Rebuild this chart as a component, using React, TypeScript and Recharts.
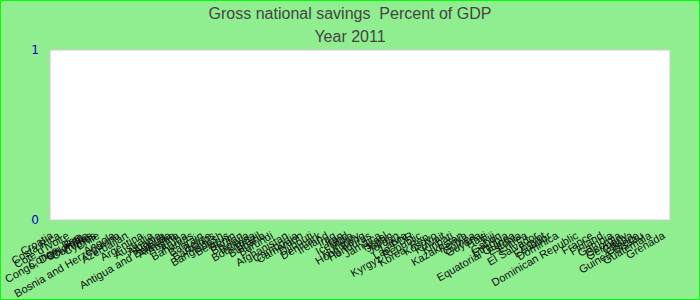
import { BarChart, Bar, XAxis, YAxis, CartesianGrid, ReferenceArea } from "recharts";

// countries in the order they appear along the axis
const countries = [
  "Croatia", "Costa Rica", "Cote d'Ivoire", "Congo, Dem. Rep.", "Congo, Rep.", "Colombia",
  "Comoros", "Cyprus", "Chile", "Bosnia and Herzegovina", "Angola", "Azerbaijan",
  "Argentina", "Australia", "Albania", "Algeria", "Antigua and Barbuda", "Armenia",
  "Austria", "Aruba", "Bahamas", "Bahrain", "Belize", "Barbados", "Bangladesh",
  "Belarus", "Benin", "Bhutan", "Bolivia", "Botswana", "Brazil", "Bulgaria", "Burundi",
  "Afghanistan", "Cambodia", "Cameroon", "Djibouti", "Denmark", "Ireland", "Iraq",
  "Iran", "Iceland", "India", "Hungary", "Hong Kong", "Honduras", "Jamaica", "Israel",
  "Japan", "Jordan", "Latvia", "Lao PDR", "Kyrgyz Republic", "Korea, Rep.", "Kosovo",
  "Kuwait", "Kiribati", "Kazakhstan", "Kenya", "Guinea", "Guyana", "Haiti", "Fiji",
  "Gabon", "Ethiopia", "Equatorial Guinea", "Estonia", "Eritrea", "El Salvador", "Egypt",
  "Ecuador", "Dominica", "Dominican Republic", "France", "Finland", "Gambia", "Georgia",
  "Germany", "Ghana", "Greece", "Guinea-Bissau", "Guatemala", "Grenada",
];

// x value of each country (0..100)
const xValues = [
  0, 1.1, 2.6, 5.3, 4.9, 5.7, 6.3, 6.9, 7.5, 10.8, 10, 12.1, 14.5, 16.1, 17.4, 18.1,
  19, 19.7, 20.3, 21.6, 22.6, 24.2, 25.5, 26.1, 27.4, 28.4, 29.4, 30.6, 31.6, 32.6,
  33.5, 34.2, 35.5, 37.9, 39.5, 40.3, 41.9, 43.2, 44.4, 45.6, 46.8, 47.6, 48.4, 49.4,
  50.3, 51.3, 52.9, 53.9, 54.8, 55.8, 57.1, 58.1, 59.4, 61, 61.9, 63.2, 64.5, 66.1,
  66.8, 68.1, 69, 70, 71.3, 72.3, 73.4, 74.5, 75.5, 76.5, 78.2, 79.4, 80.3, 81.5,
  84.7, 87.1, 88.7, 90.3, 91.6, 92.6, 93.5, 94.5, 95.2, 96.5, 98.7,
];

// gross national savings, % of GDP (none shown for 2011)
const savings = countries.map(() => 0);

const data = countries.map((name, i) => ({ name, x: xValues[i], savings: savings[i] }));

const CountryTick = (props: any) => {
  const { x, y, payload } = props;
  const d = data.find((p) => p.x === payload.value);
  return (
    <text
      transform={`translate(${x},${y + 3}) rotate(-30)`}
      textAnchor="end"
      dy="0.71em"
      fontSize={11}
      fontFamily="Liberation Sans, Arial, sans-serif"
      fill="#111"
    >
      {d ? d.name : ""}
    </text>
  );
};

const App = () => {
  return (
    <div
      style={{
        position: "absolute", left: 0, top: 0, width: 698, height: 298,
        background: "#90ee90", border: "1px solid #00ff00",
      }}
    >
      <div
        style={{
          position: "absolute", left: 0, top: 1, width: 698, textAlign: "center",
          fontFamily: "Liberation Sans, Arial, sans-serif", fontSize: 16, color: "#444",
          lineHeight: "23px",
        }}
      >
        <div>Gross national savings&nbsp; Percent of GDP</div>
        <div>Year 2011</div>
      </div>
      <div style={{ position: "absolute", left: -1, top: -1 }}>
        <BarChart width={700} height={300} data={data} margin={{ top: 50, right: 30, bottom: 0, left: 0 }}>
          <CartesianGrid horizontal={false} vertical={false} fill="#fff" />
          <ReferenceArea x1={0} x2={100} y1={0} y2={1} fill="none" stroke="#cccccc" strokeWidth={1} ifOverflow="visible" />
          <XAxis
            type="number"
            dataKey="x"
            domain={[0, 100]}
            ticks={xValues}
            interval={0}
            height={80}
            axisLine={false}
            tickLine={false}
            tick={<CountryTick />}
          />
          <YAxis
            domain={[0, 1]}
            ticks={[0, 1]}
            width={50}
            axisLine={false}
            tickLine={false}
            tickSize={0}
            tickMargin={11}
            tick={{ fontSize: 12, fill: "#0000c0", fontFamily: "DejaVu Sans, sans-serif" }}
          />
          <Bar dataKey="savings" fill="#4472c4" barSize={3} isAnimationActive={false} />
        </BarChart>
      </div>
    </div>
  );
};

export default App;
